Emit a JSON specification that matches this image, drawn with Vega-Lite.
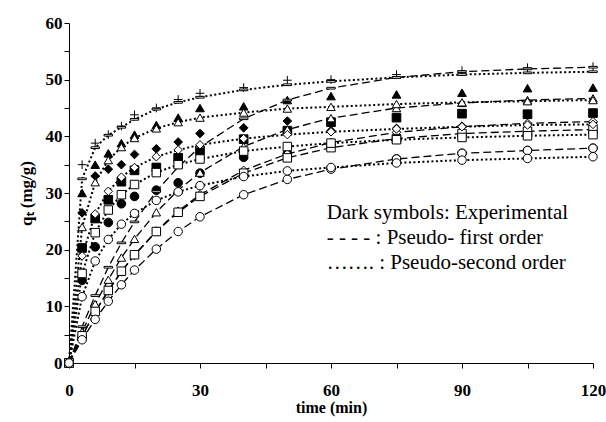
{
  "$schema": "https://vega.github.io/schema/vega-lite/v6.json",
  "width": 524,
  "height": 340,
  "autosize": {"type": "none"},
  "padding": {"left": 69, "top": 23, "right": 13, "bottom": 59},
  "background": "white",
  "config": {
    "view": {"stroke": null},
    "axis": {
      "grid": false,
      "domainColor": "black",
      "tickColor": "black",
      "labelColor": "black",
      "titleColor": "black",
      "labelFont": "Liberation Serif",
      "titleFont": "Liberation Serif",
      "labelFontWeight": "bold",
      "titleFontWeight": "bold",
      "labelFontSize": 17,
      "titleFontSize": 16,
      "tickSize": 5,
      "labelOverlap": false,
      "labelFlush": false
    }
  },
  "datasets": {
    "kin": [
      {"t": 0, "plus_exp": 0, "plus_pso": 0, "plus_pfo": 0, "tri_exp": 0, "tri_pso": 0, "tri_pfo": 0, "dia_exp": 0, "dia_pso": 0, "dia_pfo": 0, "sq_exp": 0, "sq_pso": 0, "sq_pfo": 0, "circ_exp": 0, "circ_pso": 0, "circ_pfo": 0},
      {"t": 3, "plus_exp": 35.0, "plus_pso": 32.5, "plus_pfo": 6.4, "tri_exp": 30.0, "tri_pso": 24.0, "tri_pfo": 5.5, "dia_exp": 26.5, "dia_pso": 18.9, "dia_pfo": 4.7, "sq_exp": 20.3, "sq_pso": 15.8, "sq_pfo": 4.8, "circ_exp": 14.6, "circ_pso": 11.7, "circ_pfo": 4.1},
      {"t": 6, "plus_exp": 38.8, "plus_pso": 38.0, "plus_pfo": 11.9, "tri_exp": 35.0, "tri_pso": 31.9, "tri_pfo": 10.4, "dia_exp": 33.0, "dia_pso": 26.3, "dia_pfo": 9.0, "sq_exp": 25.5, "sq_pso": 23.0, "sq_pfo": 9.1, "circ_exp": 20.5, "circ_pso": 18.0, "circ_pfo": 7.7},
      {"t": 9, "plus_exp": 40.3, "plus_pso": 40.2, "plus_pfo": 16.9, "tri_exp": 37.0, "tri_pso": 35.8, "tri_pfo": 14.7, "dia_exp": 34.2, "dia_pso": 30.3, "dia_pfo": 12.7, "sq_exp": 28.8, "sq_pso": 27.0, "sq_pfo": 12.8, "circ_exp": 24.8, "circ_pso": 21.8, "circ_pfo": 10.9},
      {"t": 12, "plus_exp": 41.8, "plus_pso": 41.6, "plus_pfo": 21.2, "tri_exp": 38.8, "tri_pso": 38.1, "tri_pfo": 18.6, "dia_exp": 35.0, "dia_pso": 32.8, "dia_pfo": 16.1, "sq_exp": 32.0, "sq_pso": 29.7, "sq_pfo": 16.2, "circ_exp": 28.1, "circ_pso": 24.5, "circ_pfo": 13.8},
      {"t": 15, "plus_exp": 43.8, "plus_pso": 43.0, "plus_pfo": 24.9, "tri_exp": 40.3, "tri_pso": 39.7, "tri_pfo": 21.9, "dia_exp": 36.8, "dia_pso": 34.5, "dia_pfo": 19.0, "sq_exp": 34.0, "sq_pso": 31.5, "sq_pfo": 19.1, "circ_exp": 29.4, "circ_pso": 26.4, "circ_pfo": 16.4},
      {"t": 20, "plus_exp": 45.0, "plus_pso": 44.8, "plus_pfo": 30.3, "tri_exp": 42.0, "tri_pso": 41.4, "tri_pfo": 26.6, "dia_exp": 37.8, "dia_pso": 36.4, "dia_pfo": 23.3, "sq_exp": 34.5, "sq_pso": 33.6, "sq_pfo": 23.2, "circ_exp": 30.5, "circ_pso": 28.7, "circ_pfo": 20.1},
      {"t": 25, "plus_exp": 46.5, "plus_pso": 46.0, "plus_pfo": 34.6, "tri_exp": 43.3, "tri_pso": 42.5, "tri_pfo": 30.5, "dia_exp": 39.0, "dia_pso": 37.6, "dia_pfo": 26.8, "sq_exp": 36.2, "sq_pso": 35.0, "sq_pfo": 26.6, "circ_exp": 31.8, "circ_pso": 30.2, "circ_pfo": 23.2},
      {"t": 30, "plus_exp": 47.6, "plus_pso": 46.9, "plus_pfo": 38.1, "tri_exp": 45.0, "tri_pso": 43.3, "tri_pfo": 33.6, "dia_exp": 40.5, "dia_pso": 38.5, "dia_pfo": 29.7, "sq_exp": 37.5, "sq_pso": 36.0, "sq_pfo": 29.4, "circ_exp": 33.5, "circ_pso": 31.3, "circ_pfo": 25.8},
      {"t": 40, "plus_exp": 48.6, "plus_pso": 48.2, "plus_pfo": 43.1, "tri_exp": 45.3, "tri_pso": 44.2, "tri_pfo": 38.2, "dia_exp": 41.5, "dia_pso": 39.6, "dia_pfo": 34.0, "sq_exp": 39.5, "sq_pso": 37.4, "sq_pfo": 33.5, "circ_exp": 36.3, "circ_pso": 32.9, "circ_pfo": 29.7},
      {"t": 50, "plus_exp": 49.9, "plus_pso": 49.1, "plus_pfo": 46.4, "tri_exp": 46.4, "tri_pso": 44.9, "tri_pfo": 41.2, "dia_exp": 42.7, "dia_pso": 40.3, "dia_pfo": 36.9, "sq_exp": 41.0, "sq_pso": 38.2, "sq_pfo": 36.2, "circ_exp": 37.0, "circ_pso": 33.9, "circ_pfo": 32.4},
      {"t": 60, "plus_exp": 50.0, "plus_pso": 49.7, "plus_pfo": 48.5, "tri_exp": 47.1, "tri_pso": 45.2, "tri_pfo": 43.2, "dia_exp": 41.0, "dia_pso": 40.8, "dia_pfo": 38.9, "sq_exp": 42.5, "sq_pso": 38.8, "sq_pfo": 38.0, "circ_exp": 34.4, "circ_pso": 34.5, "circ_pfo": 34.2},
      {"t": 75, "plus_exp": 50.9, "plus_pso": 50.4, "plus_pfo": 50.4, "tri_exp": 47.4, "tri_pso": 45.7, "tri_pfo": 45.0, "dia_exp": 41.4, "dia_pso": 41.3, "dia_pfo": 40.7, "sq_exp": 43.3, "sq_pso": 39.4, "sq_pfo": 39.6, "circ_exp": 36.0, "circ_pso": 35.3, "circ_pfo": 36.0},
      {"t": 90, "plus_exp": 51.6, "plus_pso": 50.9, "plus_pfo": 51.4, "tri_exp": 47.7, "tri_pso": 46.0, "tri_pfo": 45.9, "dia_exp": 41.8, "dia_pso": 41.7, "dia_pfo": 41.7, "sq_exp": 44.0, "sq_pso": 39.8, "sq_pfo": 40.5, "circ_exp": 37.0, "circ_pso": 35.8, "circ_pfo": 37.0},
      {"t": 105, "plus_exp": 52.1, "plus_pso": 51.2, "plus_pfo": 51.9, "tri_exp": 48.5, "tri_pso": 46.2, "tri_pfo": 46.4, "dia_exp": 42.2, "dia_pso": 42.0, "dia_pfo": 42.3, "sq_exp": 43.9, "sq_pso": 40.1, "sq_pfo": 40.9, "circ_exp": 37.5, "circ_pso": 36.1, "circ_pfo": 37.5},
      {"t": 120, "plus_exp": 52.3, "plus_pso": 51.4, "plus_pfo": 52.2, "tri_exp": 48.6, "tri_pso": 46.4, "tri_pfo": 46.7, "dia_exp": 42.5, "dia_pso": 42.1, "dia_pfo": 42.6, "sq_exp": 44.1, "sq_pso": 40.3, "sq_pfo": 41.2, "circ_exp": 37.9, "circ_pso": 36.4, "circ_pfo": 37.9}
    ],
    "notes": [
      {"t": 59, "q": 26.5, "label": "Dark symbols: Experimental"},
      {"t": 59, "q": 22.1, "label": "- - - - : Pseudo- first order"},
      {"t": 59, "q": 17.6, "label": "……. : Pseudo-second order"}
    ]
  },
  "encoding": {
    "x": {
      "field": "t",
      "type": "quantitative",
      "scale": {"domain": [0, 120], "nice": false, "zero": false},
      "axis": {
        "values": [0, 15, 30, 45, 60, 75, 90, 105, 120],
        "labelExpr": "datum.value % 30 === 0 ? datum.label : ''",
        "title": "time (min)",
        "labelPadding": 14,
        "titlePadding": 1
      }
    },
    "y": {
      "field": "q",
      "type": "quantitative",
      "scale": {"domain": [0, 60], "nice": false, "zero": false},
      "axis": {
        "values": [0, 5, 10, 15, 20, 25, 30, 35, 40, 45, 50, 55, 60],
        "labelExpr": "datum.value % 10 === 0 ? datum.label : ''",
        "title": "qₜ (mg/g)",
        "titleFontSize": 17,
        "labelPadding": 2,
        "titlePadding": 10
      }
    }
  },
  "layer": [
    {
      "data": {"name": "kin"},
      "transform": [{"fold": ["plus_pfo", "tri_pfo", "dia_pfo", "sq_pfo", "circ_pfo"], "as": ["key", "q"]}],
      "mark": {"type": "line", "color": "black", "strokeWidth": 1.3, "strokeDash": [8, 4]},
      "encoding": {"detail": {"field": "key"}}
    },
    {
      "data": {"name": "kin"},
      "transform": [{"fold": ["plus_pso", "tri_pso", "dia_pso", "sq_pso", "circ_pso"], "as": ["key", "q"]}],
      "mark": {"type": "line", "color": "black", "strokeWidth": 2, "strokeDash": [2, 2.5]},
      "encoding": {"detail": {"field": "key"}}
    },
    {
      "data": {"name": "kin"},
      "transform": [{"fold": ["plus_exp", "tri_exp", "dia_exp", "sq_exp", "circ_exp"], "as": ["key", "q"]}],
      "mark": {"type": "point", "filled": true, "fill": "black", "stroke": "black", "strokeWidth": 1, "size": 75, "opacity": 1},
      "encoding": {
        "shape": {
          "field": "key",
          "type": "nominal",
          "legend": null,
          "scale": {
            "domain": ["plus_exp", "tri_exp", "dia_exp", "sq_exp", "circ_exp"],
            "range": ["M-1,0L1,0M0,-1L0,1", "triangle-up", "diamond", "square", "circle"]
          }
        }
      }
    },
    {
      "data": {"name": "kin"},
      "transform": [{"fold": ["plus_pfo", "tri_pfo", "dia_pfo", "sq_pfo", "circ_pfo", "plus_pso", "tri_pso", "dia_pso", "sq_pso", "circ_pso"], "as": ["key", "q"]}],
      "mark": {"type": "point", "filled": true, "fill": "white", "stroke": "black", "strokeWidth": 1, "size": 72, "opacity": 1},
      "encoding": {
        "shape": {
          "field": "key",
          "type": "nominal",
          "legend": null,
          "scale": {
            "domain": ["plus_pfo", "tri_pfo", "dia_pfo", "sq_pfo", "circ_pfo", "plus_pso", "tri_pso", "dia_pso", "sq_pso", "circ_pso"],
            "range": ["M-1,-0.2L1,-0.2L1,0.2L-1,0.2Z", "triangle-up", "diamond", "square", "circle", "M-1,-0.2L1,-0.2L1,0.2L-1,0.2Z", "triangle-up", "diamond", "square", "circle"]
          }
        }
      }
    },
    {
      "data": {"name": "notes"},
      "mark": {"type": "text", "align": "left", "baseline": "middle", "font": "Liberation Serif", "fontSize": 21, "color": "black"},
      "encoding": {"text": {"field": "label"}}
    }
  ],
  "resolve": {"scale": {"shape": "independent"}}
}
